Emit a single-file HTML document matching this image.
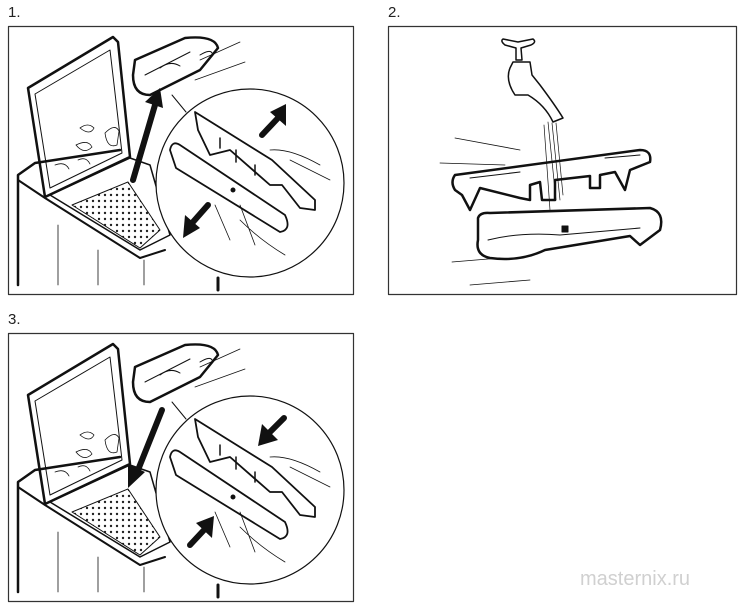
<!DOCTYPE html>
<html><head><style>
html,body{margin:0;padding:0;background:#fff;}
body{width:746px;height:608px;position:relative;overflow:hidden;font-family:"Liberation Sans",sans-serif;}
.lbl{position:absolute;font-size:15px;color:#222;}
</style></head><body>
<div class="lbl" style="left:8px;top:4px">1.</div>
<div class="lbl" style="left:388px;top:4px">2.</div>
<div class="lbl" style="left:8px;top:311px">3.</div>
<div style="position:absolute;left:580px;top:568px;font-size:20px;color:#d0d0d0;">masternix.ru</div>
<svg width="746" height="608" style="position:absolute;left:0;top:0" fill="none" stroke="#111" stroke-linejoin="round" stroke-linecap="round">
<defs>
<pattern id="dots" width="6" height="6" patternUnits="userSpaceOnUse"><circle cx="3" cy="3" r="1.2" fill="#222" stroke="none"/></pattern>
<g id="machine">
 <rect x="8.5" y="26.5" width="345" height="268" stroke="#333" stroke-width="1.2"/>
 <path d="M18,285 L18,175 L35,163 L120,150" stroke-width="2.5"/>
 <path d="M18,180 L45,198 L140,258 L165,250" stroke-width="2"/>
 <path d="M28,88 L113,37 L118,42 L130,157 L45,197 Z" stroke-width="2.5"/>
 <path d="M35,94 L110,50 L122,153 L50,188 Z" stroke-width="1"/>
 <path d="M80,128 q8,-6 14,0 q-4,8 -14,0 M76,145 q12,-6 16,2 q-8,8 -16,-2 M105,133 q10,-10 14,-2 l-2,14 q-10,4 -12,-12 M55,165 q10,-4 14,4 M78,160 q8,-4 12,4" stroke-width="0.8"/>
 <path d="M50,195 L130,158 L150,165 L170,235 L140,250 Z" stroke-width="1.5"/>
 <path d="M72,205 L128,182 L160,230 L140,248 Z" fill="url(#dots)" stroke-width="1"/>
 <path d="M58,225 L58,285 M98,250 L98,285 M144,260 L144,285" stroke-width="0.8"/>
 <path d="M218,278 L218,290" stroke-width="3"/>
 <path d="M135,60 L185,38 Q215,35 218,48 L200,70 L150,95 Q133,95 133,75 Z" stroke-width="2.5"/>
 <path d="M145,75 L190,52 M160,68 q10,-8 20,-2 M200,55 q10,-6 12,-2" stroke-width="1"/>
 <path d="M200,60 L240,42 M195,80 L245,62" stroke-width="0.8"/>
 <circle cx="250" cy="183" r="94" fill="#fff" stroke-width="1.2"/>
 <path d="M172,95 L186,112" stroke-width="1"/>
 <path d="M195,112 L272,160 L315,200 L315,210 L300,208 L282,185 L270,185 L230,150 L210,155 L198,130 Z" stroke-width="1.8"/>
 <path d="M220,138 L220,148 M236,150 L236,162 M255,165 L255,175" stroke-width="1.5"/>
 <path d="M170,150 Q172,140 180,145 L285,215 Q292,230 280,232 L176,168 Z" stroke-width="1.8"/>
 <circle cx="233" cy="190" r="2" fill="#111"/>
 <path d="M215,205 L230,240 M240,205 L255,245 M270,150 Q290,148 320,165 M290,160 L330,180 M240,220 Q260,240 285,255" stroke-width="0.8"/>
</g>
</defs>
<use href="#machine"/>
<use href="#machine" transform="translate(0,307)"/>
<!-- panel 1 arrows -->
<path d="M133,180 L155,105" stroke="#111" stroke-width="6"/>
<polygon points="145,102 163,108 160,88" fill="#111" stroke="none"/>
<path d="M262,135 L278,118" stroke-width="6"/>
<polygon points="270,112 286,126 286,104" fill="#111" stroke="none"/>
<path d="M208,205 L193,222" stroke-width="6"/>
<polygon points="185,215 200,228 183,238" fill="#111" stroke="none"/>
<!-- panel 3 arrows -->
<path d="M162,410 L138,470" stroke-width="6"/>
<polygon points="128,464 145,472 128,488" fill="#111" stroke="none"/>
<path d="M284,418 L270,432" stroke-width="6"/>
<polygon points="262,424 278,440 258,446" fill="#111" stroke="none"/>
<path d="M190,545 L204,530" stroke-width="6"/>
<polygon points="196,523 212,538 214,516" fill="#111" stroke="none"/>
<!-- panel 2 -->
<rect x="388.5" y="26.5" width="348" height="268" stroke="#333" stroke-width="1.2"/>
<path d="M505,45 q-5,-4 -2,-6 l15,3 l15,-3 q4,3 -2,6 l-10,3 L522,60 L516,60 L516,48 Z" stroke-width="1.5"/>
<path d="M513,62 L530,62 L532,75 L540,85 Q555,105 563,118 L553,122 Q545,105 528,95 L515,95 Q505,80 510,68 Z" stroke-width="1.5"/>
<path d="M548,122 L556,200 M552,123 L560,200 M556,123 L563,195 M544,125 L550,210" stroke-width="0.7"/>
<path d="M455,175 L640,150 Q652,150 650,162 L630,170 L625,190 L615,172 L600,175 L600,188 L590,188 L590,176 L555,180 L555,200 L542,200 L540,182 L530,185 L530,200 L520,198 L480,188 L470,210 L462,195 L455,190 Q450,182 455,175 Z" stroke-width="2.5"/>
<path d="M470,178 L520,172 M605,158 L640,155" stroke-width="1"/>
<path d="M455,138 L520,150 M440,163 L505,165" stroke-width="0.8"/>
<path d="M478,218 Q480,212 490,213 L650,208 Q665,212 660,230 L640,245 L630,236 L545,250 Q520,262 490,258 Q475,255 478,240 Z" stroke-width="2.5"/>
<path d="M488,240 Q520,232 560,235 L640,228" stroke-width="1"/>
<path d="M562,226 l6,0 l0,6 l-6,0 Z" fill="#111"/>
<path d="M452,262 L500,258 M470,285 L530,280" stroke-width="0.8"/>
</svg>
</body></html>
